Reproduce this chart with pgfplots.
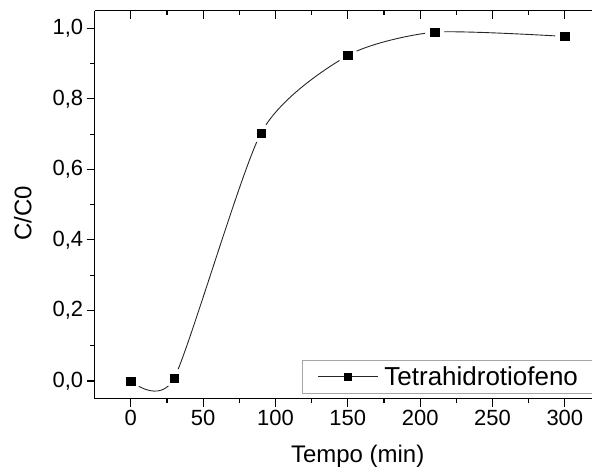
\documentclass[border=0pt]{standalone}
\usepackage{fontspec}
\setmainfont{Liberation Sans}
\usepackage{pgfplots}
\pgfplotsset{compat=1.18}

\begin{document}
\begin{tikzpicture}
\pgfplotsset{
  common/.style={
    width=498.3bp, height=388.3bp, scale only axis,
    xmin=-25, xmax=319, ymin=-0.05, ymax=1.05,
    xtick={0,50,100,150,200,250,300}, minor x tick num=1,
    ytick={0,0.2,0.4,0.6,0.8,1.0}, minor y tick num=1,
    major tick length=8bp, minor tick length=4.5bp,
    every tick/.style={black, line width=1.2bp},
    axis line style={line width=1.3bp},
  },
}
% frame (the original is cut off on the right), left/bottom ticks pointing out
\begin{axis}[
  common,
  axis x line=box, axis y line*=left, y axis line style={-},
  xtick pos=left, ytick pos=left, tick align=outside,
  ticklabel style={font=\fontsize{22bp}{26bp}\selectfont},
  /pgf/number format/assume math mode=true,
  yticklabel style={/pgf/number format/.cd, use comma, fixed, fixed zerofill, precision=1},
  xlabel={Tempo (min)}, ylabel={C/C0},
  label style={font=\fontsize{24bp}{28bp}\selectfont},
  xlabel style={at={(axis description cs:0.5286,-0.164)}, anchor=base},
  ylabel style={at={(axis description cs:-0.144,0.4768)}, anchor=center, rotate=0},
  legend style={at={(axis cs:129,0.012)}, anchor=west,
    draw=none, fill=none, inner sep=0pt,
    nodes={inner xsep=6bp, inner ysep=0pt},
    font=\fontsize{26bp}{30bp}\selectfont},
  legend cell align=left,
  legend image code/.code={
    \draw[#1, mark repeat=2, mark phase=2] plot coordinates {(0bp,0bp) (30bp,0bp) (60bp,0bp)};
  },
  clip mode=individual,
]
\addplot[black!85, line width=0.9bp, smooth, tension=0.4, forget plot] coordinates {
  (0,0.000) (30,0.008) (90,0.703) (150,0.923) (210,0.989) (300,0.977)
};
% white gap round each point
\addplot[only marks, mark=*, mark size=9.5bp, mark options={draw=white, fill=white}, forget plot] coordinates {
  (0,0.000) (30,0.008) (90,0.703) (150,0.923) (210,0.989) (300,0.977)
};
\addplot[only marks, mark=square*, mark size=4.2bp, mark options={draw=black, fill=black}, forget plot] coordinates {
  (0,0.000) (30,0.008) (90,0.703) (150,0.923) (210,0.989) (300,0.977)
};
\addlegendimage{black!85, line width=0.9bp, mark=square*, mark size=3.3bp, mark options={black}}
\addlegendentry{Tetrahidrotiofeno}
% legend frame, open on the cut side
\draw[gray!70, line width=0.8bp] (axis cs:319,0.0595) -- (axis cs:118.4,0.0595)
  -- (axis cs:118.4,-0.0348) -- (axis cs:319,-0.0348);
\end{axis}
% top ticks pointing in
\begin{axis}[
  common,
  hide y axis,
  xtick pos=right, tick align=inside,
  xticklabels={},
  axis line style={draw=none},
]
\end{axis}
\path (-94.7bp,-76bp) rectangle (498.3bp,399bp);
\end{tikzpicture}
\end{document}
